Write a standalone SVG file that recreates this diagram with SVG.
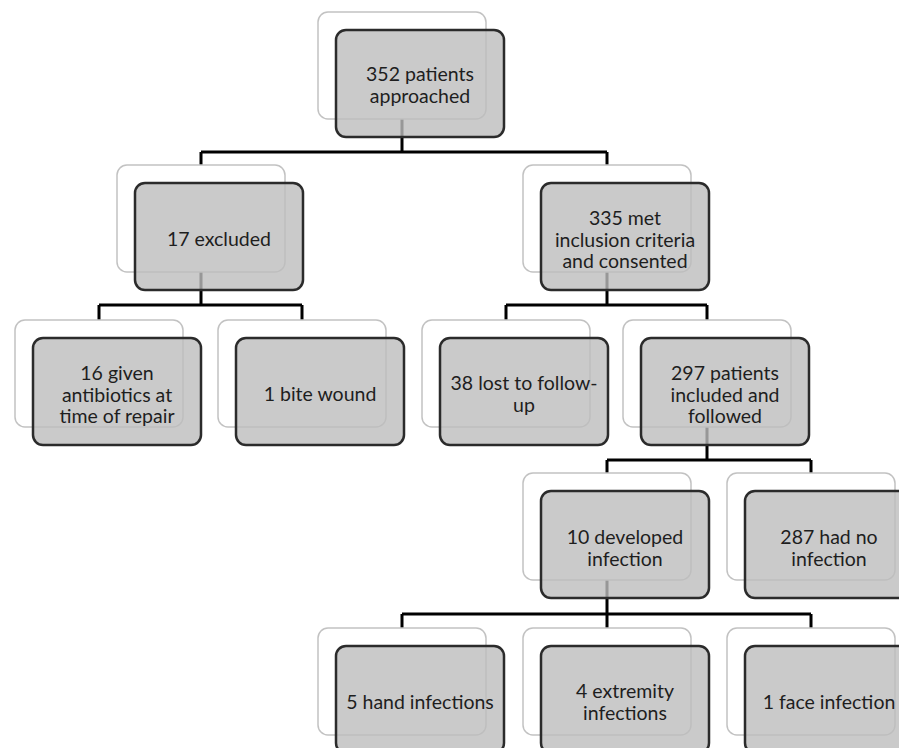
<svg xmlns="http://www.w3.org/2000/svg" width="899" height="748" viewBox="0 0 899 748">
<style>
.back{fill:#ffffff;stroke:#c2c2c2;stroke-width:1.5}
.front{fill:#bdbdbd;fill-opacity:0.8;stroke:#2b2b2b;stroke-width:2.5}
.conn{fill:none;stroke:#000000;stroke-width:3}
text{font-family:Lato,"Open Sans","DejaVu Sans",sans-serif;font-size:19.5px;fill:#1e1e1e;text-anchor:middle}
</style>
<rect width="899" height="748" fill="#ffffff"/>
<g id="connectors">
<path class="conn" d="M402,119 V152 M201,152 H607 M201,152 V165 M607,152 V165"/>
<path class="conn" d="M201,272 V305 M99,305 H302 M99,305 V320 M302,305 V320"/>
<path class="conn" d="M607,272 V305 M506,305 H707 M506,305 V320 M707,305 V320"/>
<path class="conn" d="M707,427 V460 M607,460 H811 M607,460 V473 M811,460 V473"/>
<path class="conn" d="M607,580 V614 M402,614 H811 M402,614 V628 M607,614 V628 M811,614 V628"/>
</g>
<g id="n352">
<rect class="back" x="318" y="12" width="168" height="107" rx="10"/>
<rect class="front" x="336" y="30" width="168" height="107" rx="10"/>
<text x="420" y="81">352 patients</text>
<text x="420" y="103">approached</text>
</g>
<g id="n17">
<rect class="back" x="117" y="165" width="168" height="107" rx="10"/>
<rect class="front" x="135" y="183" width="168" height="107" rx="10"/>
<text x="219" y="246">17 excluded</text>
</g>
<g id="n335">
<rect class="back" x="523" y="165" width="168" height="107" rx="10"/>
<rect class="front" x="541" y="183" width="168" height="107" rx="10"/>
<text x="625" y="225">335 met</text>
<text x="625" y="246.5">inclusion criteria</text>
<text x="625" y="268">and consented</text>
</g>
<g id="n16">
<rect class="back" x="15" y="320" width="168" height="107" rx="10"/>
<rect class="front" x="33" y="338" width="168" height="107" rx="10"/>
<text x="117" y="380">16 given</text>
<text x="117" y="401.5">antibiotics at</text>
<text x="117" y="423">time of repair</text>
</g>
<g id="n1bite">
<rect class="back" x="218" y="320" width="168" height="107" rx="10"/>
<rect class="front" x="236" y="338" width="168" height="107" rx="10"/>
<text x="320" y="401">1 bite wound</text>
</g>
<g id="n38">
<rect class="back" x="422" y="320" width="168" height="107" rx="10"/>
<rect class="front" x="440" y="338" width="168" height="107" rx="10"/>
<text x="524" y="390">38 lost to follow-</text>
<text x="524" y="411.5">up</text>
</g>
<g id="n297">
<rect class="back" x="623" y="320" width="168" height="107" rx="10"/>
<rect class="front" x="641" y="338" width="168" height="107" rx="10"/>
<text x="725" y="380">297 patients</text>
<text x="725" y="401.5">included and</text>
<text x="725" y="423">followed</text>
</g>
<g id="n10">
<rect class="back" x="523" y="473" width="168" height="107" rx="10"/>
<rect class="front" x="541" y="491" width="168" height="107" rx="10"/>
<text x="625" y="544">10 developed</text>
<text x="625" y="565.5">infection</text>
</g>
<g id="n287">
<rect class="back" x="727" y="473" width="168" height="107" rx="10"/>
<rect class="front" x="745" y="491" width="168" height="107" rx="10"/>
<text x="829" y="544">287 had no</text>
<text x="829" y="565.5">infection</text>
</g>
<g id="n5">
<rect class="back" x="318" y="628" width="168" height="107" rx="10"/>
<rect class="front" x="336" y="646" width="168" height="107" rx="10"/>
<text x="420" y="709">5 hand infections</text>
</g>
<g id="n4">
<rect class="back" x="523" y="628" width="168" height="107" rx="10"/>
<rect class="front" x="541" y="646" width="168" height="107" rx="10"/>
<text x="625" y="698">4 extremity</text>
<text x="625" y="719.5">infections</text>
</g>
<g id="n1face">
<rect class="back" x="727" y="628" width="168" height="107" rx="10"/>
<rect class="front" x="745" y="646" width="168" height="107" rx="10"/>
<text x="829" y="709">1 face infection</text>
</g>
</svg>
